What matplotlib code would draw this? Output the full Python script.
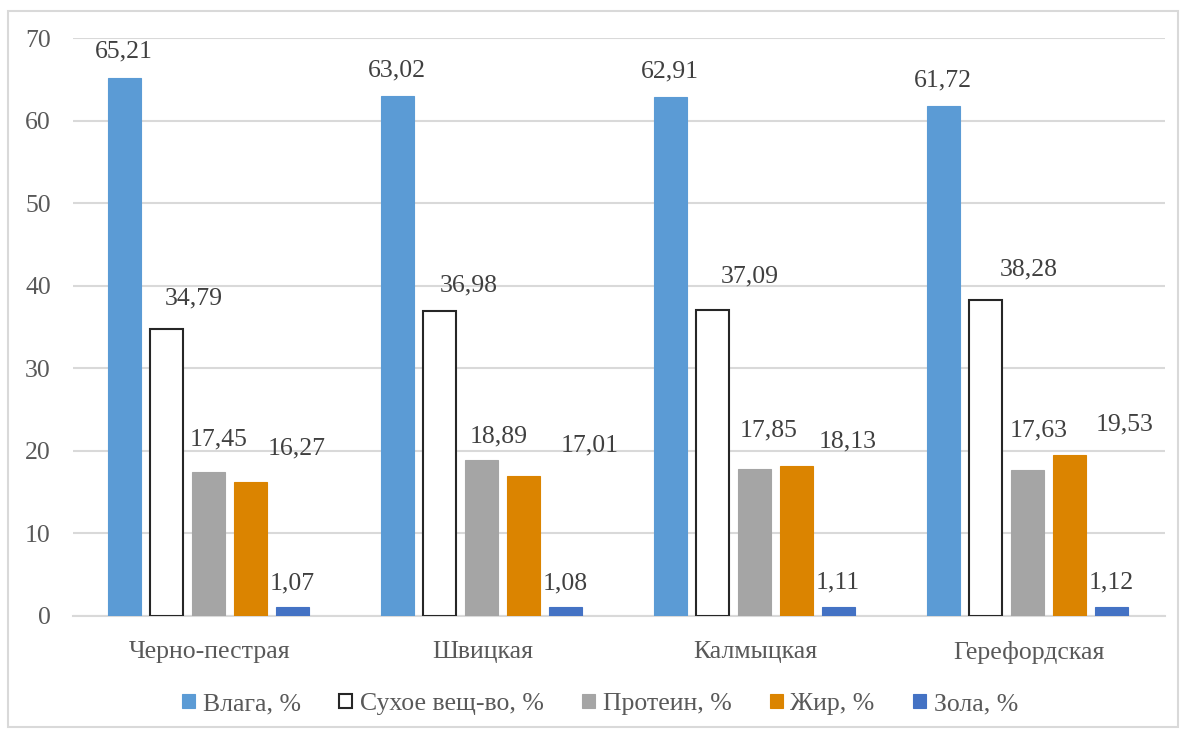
import matplotlib
matplotlib.use("Agg")
import matplotlib.pyplot as plt
import numpy as np
from matplotlib.patches import Rectangle

categories = ["Черно-пестрая", "Швицкая", "Калмыцкая", "Герефордская"]
series_names = ["Влага, %", "Сухое вещ-во, %", "Протеин, %", "Жир, %", "Зола, %"]
vlaga = [65.21, 63.02, 62.91, 61.72]
sukhoe = [34.79, 36.98, 37.09, 38.28]
protein = [17.45, 18.89, 17.85, 17.63]
zhir = [16.27, 17.01, 18.13, 19.53]
zola = [1.07, 1.08, 1.11, 1.12]
yticks = [0, 10, 20, 30, 40, 50, 60, 70]

series = [vlaga, sukhoe, protein, zhir, zola]
facecolors = ["#5B9BD5", "#FFFFFF", "#A5A5A5", "#DB8400", "#4472C4"]
edgecolors = ["#5B9BD5", "#262626", "#A5A5A5", "#DB8400", "#4472C4"]

# label offsets in pixels (dx right, dy up from bar top) per series, per category
label_dx = [[0, 0, 0, 0], [28, 30, 38, 44], [11, 18, 15, 12], [47, 67, 52, 56], [0, 0, 0, 0]]
label_dy = [[26, 25, 25, 26], [30, 25, 33, 30], [32, 24, 38, 40], [33, 30, 25, 30], [24, 24, 24, 24]]

plt.rcParams['font.family'] = ['Liberation Serif', 'DejaVu Serif']
W, H = 1182, 731
fig = plt.figure(figsize=(W / 100, H / 100), dpi=100)
ax = fig.add_axes([73 / W, 1 - 616 / H, (1165 - 73) / W, (616 - 38) / H])

x = np.arange(len(categories))
pitch = 42 / 273
width = 33 / 273
px2pt = 0.72
for i, (vals, fc, ec, name) in enumerate(zip(series, facecolors, edgecolors, series_names)):
    pos = x + (i - 2) * pitch - 1.5 / 273
    lw = 1.5 if i == 1 else 0.8
    ax.bar(pos, vals, width=width, color=fc, edgecolor=ec, linewidth=lw, label=name, zorder=3)
    for j, (p, v) in enumerate(zip(pos, vals)):
        ax.annotate(f"{v:.2f}".replace(".", ","), xy=(p, v),
                    xytext=(label_dx[i][j] * px2pt, label_dy[i][j] * px2pt),
                    textcoords="offset points", ha="center", va="center",
                    fontsize=18.5, color="#404040", zorder=4)

ax.set_xlim(-0.5, 3.5)
ax.set_ylim(0, 70)
ax.set_yticks(yticks)
ax.set_yticklabels([str(t) for t in yticks], fontsize=18.5, color="#595959")
ax.set_xticks(x)
ax.set_xticklabels(categories, fontsize=18.5, color="#595959")
ax.tick_params(axis='y', length=0, pad=16)
ax.tick_params(axis='x', length=0, pad=18)
ax.yaxis.grid(True, color="#D9D9D9", linewidth=1.5, zorder=0)
ax.set_axisbelow(True)
for s in ["top", "right", "left"]:
    ax.spines[s].set_visible(False)
ax.spines["bottom"].set_color("#D9D9D9")
ax.spines["bottom"].set_linewidth(1.5)

leg = fig.legend(loc="center", bbox_to_anchor=(0.5 + 9 / W, 1 - 704 / H), ncol=5, frameon=False,
                 fontsize=18.5, handlelength=0.5, handleheight=0.5, handletextpad=0.3,
                 columnspacing=1.5, labelcolor="#595959")

fig.patches.append(Rectangle((8 / W, 1 - 727 / H), (1178 - 8) / W, (727 - 11) / H,
                             transform=fig.transFigure, fill=False,
                             edgecolor="#D9D9D9", linewidth=1.5))

fig.savefig("out.png", dpi=100)
